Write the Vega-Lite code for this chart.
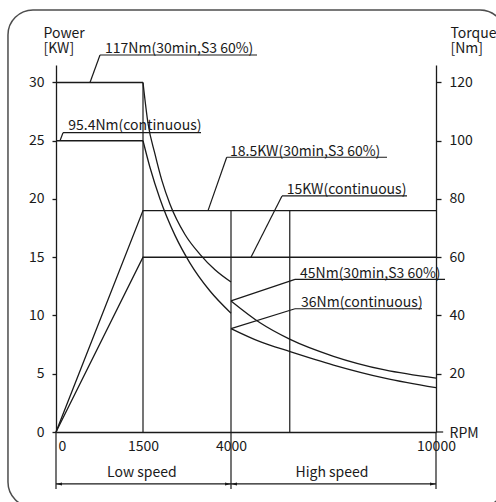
{
  "$schema": "https://vega.github.io/schema/vega-lite/v6.json",
  "width": 380,
  "height": 367,
  "autosize": {"type": "none"},
  "padding": {"left": 56, "top": 65, "right": 60, "bottom": 70},
  "background": "white",
  "config": {
    "view": {"stroke": null},
    "font": "Noto Sans CJK SC",
    "axis": {
      "grid": false,
      "domainColor": "#1a1a1a",
      "domainWidth": 1.3,
      "tickColor": "#1a1a1a",
      "tickWidth": 1.3,
      "labelColor": "#1a1a1a",
      "labelFont": "Noto Sans CJK SC",
      "labelFontSize": 14,
      "titleFont": "Noto Sans CJK SC",
      "titleFontSize": 14,
      "titleFontWeight": "normal",
      "titleColor": "#1a1a1a"
    }
  },
  "datasets": {
    "power": [
      {"series": "30min", "rpm": 0, "kw": 0},
      {"series": "30min", "rpm": 1500, "kw": 19},
      {"series": "30min", "rpm": 10000, "kw": 19},
      {"series": "continuous", "rpm": 0, "kw": 0},
      {"series": "continuous", "rpm": 1500, "kw": 15},
      {"series": "continuous", "rpm": 10000, "kw": 15}
    ],
    "torque": [
      {"series": "117 flat", "rpm": 0, "nm": 120},
      {"series": "117 flat", "rpm": 1500, "nm": 120},
      {"series": "95.4 flat", "rpm": 0, "nm": 100},
      {"series": "95.4 flat", "rpm": 1500, "nm": 100},
      {"series": "117 curve", "rpm": 1500, "nm": 120},
      {"series": "117 curve", "rpm": 1642, "nm": 106},
      {"series": "117 curve", "rpm": 1841, "nm": 95.4},
      {"series": "117 curve", "rpm": 2040, "nm": 86.2},
      {"series": "117 curve", "rpm": 2267, "nm": 78.2},
      {"series": "117 curve", "rpm": 2693, "nm": 67.8},
      {"series": "117 curve", "rpm": 3119, "nm": 61},
      {"series": "117 curve", "rpm": 3545, "nm": 55.7},
      {"series": "117 curve", "rpm": 4000, "nm": 51.5},
      {"series": "95.4 curve", "rpm": 1500, "nm": 100},
      {"series": "95.4 curve", "rpm": 1699, "nm": 90.8},
      {"series": "95.4 curve", "rpm": 1983, "nm": 80},
      {"series": "95.4 curve", "rpm": 2409, "nm": 67.5},
      {"series": "95.4 curve", "rpm": 2835, "nm": 58},
      {"series": "95.4 curve", "rpm": 3403, "nm": 48.4},
      {"series": "95.4 curve", "rpm": 4000, "nm": 40.8},
      {"series": "45 curve", "rpm": 4000, "nm": 45},
      {"series": "45 curve", "rpm": 4850, "nm": 37.5},
      {"series": "45 curve", "rpm": 5730, "nm": 31.8},
      {"series": "45 curve", "rpm": 7000, "nm": 26},
      {"series": "45 curve", "rpm": 8500, "nm": 21.3},
      {"series": "45 curve", "rpm": 10000, "nm": 18.5},
      {"series": "36 curve", "rpm": 4000, "nm": 35.5},
      {"series": "36 curve", "rpm": 4850, "nm": 31},
      {"series": "36 curve", "rpm": 5730, "nm": 27.6},
      {"series": "36 curve", "rpm": 7000, "nm": 23},
      {"series": "36 curve", "rpm": 8500, "nm": 18.5},
      {"series": "36 curve", "rpm": 10000, "nm": 15.2}
    ],
    "segments": [
      {"rpm": 1500, "rpm2": 1500, "kw": 0, "kw2": 30},
      {"rpm": 4000, "rpm2": 4000, "kw": -4.9, "kw2": 19},
      {"rpm": 5720, "rpm2": 5720, "kw": 0, "kw2": 19},
      {"rpm": 0, "rpm2": 0, "kw": -4.9, "kw2": 0},
      {"rpm": 10000, "rpm2": 10000, "kw": -4.9, "kw2": 0},
      {"rpm": 10000, "rpm2": 10210, "kw": 0, "kw2": 0},
      {"rpm": 0, "rpm2": 4000, "kw": -4.46, "kw2": -4.46},
      {"rpm": 4000, "rpm2": 10000, "kw": -4.46, "kw2": -4.46},
      {"rpm": 759, "rpm2": 4761, "kw": 32.36, "kw2": 32.36},
      {"rpm": 586, "rpm2": 759, "kw": 30, "kw2": 32.36},
      {"rpm": 121, "rpm2": 3148, "kw": 25.69, "kw2": 25.69},
      {"rpm": 69, "rpm2": 121, "kw": 25, "kw2": 25.69},
      {"rpm": 3878, "rpm2": 8566, "kw": 23.58, "kw2": 23.58},
      {"rpm": 3347, "rpm2": 3878, "kw": 19, "kw2": 23.58},
      {"rpm": 5493, "rpm2": 9152, "kw": 20.26, "kw2": 20.26},
      {"rpm": 4585, "rpm2": 5493, "kw": 15, "kw2": 20.26},
      {"rpm": 5873, "rpm2": 10264, "kw": 13.1, "kw2": 13.1},
      {"rpm": 4000, "rpm2": 5873, "kw": 11.25, "kw2": 13.1},
      {"rpm": 5873, "rpm2": 9590, "kw": 10.58, "kw2": 10.58},
      {"rpm": 4000, "rpm2": 5873, "kw": 8.875, "kw2": 10.58}
    ],
    "arrows": [
      {"rpm": 0, "kw": -4.46, "dir": "left"},
      {"rpm": 4000, "kw": -4.46, "dir": "right"},
      {"rpm": 4000, "kw": -4.46, "dir": "left"},
      {"rpm": 10000, "kw": -4.46, "dir": "right"}
    ],
    "notes": [
      {"label": "117Nm(30min,S3 60%)", "rpm": 845, "kw": 32.53},
      {"label": "95.4Nm(continuous)", "rpm": 212, "kw": 25.88},
      {"label": "18.5KW(30min,S3 60%)", "rpm": 3972, "kw": 23.73},
      {"label": "15KW(continuous)", "rpm": 5630, "kw": 20.43},
      {"label": "45Nm(30min,S3 60%)", "rpm": 6020, "kw": 13.26},
      {"label": "36Nm(continuous)", "rpm": 6049, "kw": 10.77}
    ],
    "speeds": [
      {"label": "Low speed", "rpm": 1480, "kw": -3.89},
      {"label": "High speed", "rpm": 6956, "kw": -3.89}
    ],
    "frame": [
      {"rpm": -828, "rpm2": 12020, "kw": -6.44, "kw2": 36.22}
    ]
  },
  "layer": [
    {
      "layer": [
        {
          "data": {"name": "power"},
          "mark": {"type": "line", "color": "#1a1a1a", "strokeWidth": 1.3},
          "encoding": {
            "x": {
              "field": "rpm",
              "type": "quantitative",
              "scale": {"domain": [0, 1500, 4000, 10000], "range": [0, 87, 175, 380], "nice": false, "zero": false},
              "axis": {
                "values": [0, 1500, 4000, 10000],
                "format": "d",
                "ticks": false,
                "tickSize": 0,
                "labelPadding": 7,
                "labelAlign": {"condition": {"test": "datum.value === 0", "value": "left"}, "value": "center"},
                "labelOffset": {"condition": {"test": "datum.value === 0", "value": 2}, "value": 0},
                "labelFlush": false,
                "labelOverlap": false,
                "title": "RPM",
                "titleAngle": 0,
                "titleAlign": "left",
                "titleBaseline": "alphabetic",
                "titleX": 393,
                "titleY": 5
              }
            },
            "y": {
              "field": "kw",
              "type": "quantitative",
              "scale": {"domain": [0, 31.5], "nice": false, "zero": false},
              "axis": {
                "values": [0, 5, 10, 15, 20, 25, 30],
                "tickSize": 4,
                "labelPadding": 8,
                "title": ["Power", "[KW]"],
                "titleAngle": 0,
                "titleAlign": "left",
                "titleBaseline": "top",
                "titleLineHeight": 15,
                "titleX": -13,
                "titleY": -39
              }
            },
            "detail": {"field": "series"}
          }
        },
        {
          "data": {"name": "segments"},
          "mark": {"type": "rule", "color": "#1a1a1a", "strokeWidth": 1.2},
          "encoding": {
            "x": {"field": "rpm", "type": "quantitative"},
            "x2": {"field": "rpm2"},
            "y": {"field": "kw", "type": "quantitative"},
            "y2": {"field": "kw2"}
          }
        },
        {
          "data": {"name": "arrows"},
          "transform": [{"filter": "datum.dir === 'right'"}],
          "mark": {"type": "point", "shape": "M0,0L-2,-0.5L-2,0.5Z", "filled": true, "color": "#1a1a1a", "size": 36, "opacity": 1},
          "encoding": {
            "x": {"field": "rpm", "type": "quantitative"},
            "y": {"field": "kw", "type": "quantitative"}
          }
        },
        {
          "data": {"name": "arrows"},
          "transform": [{"filter": "datum.dir === 'left'"}],
          "mark": {"type": "point", "shape": "M0,0L2,-0.5L2,0.5Z", "filled": true, "color": "#1a1a1a", "size": 36, "opacity": 1},
          "encoding": {
            "x": {"field": "rpm", "type": "quantitative"},
            "y": {"field": "kw", "type": "quantitative"}
          }
        },
        {
          "data": {"name": "notes"},
          "mark": {"type": "text", "align": "left", "baseline": "alphabetic", "fontSize": 14, "font": "Noto Sans CJK SC", "color": "#1a1a1a"},
          "encoding": {
            "x": {"field": "rpm", "type": "quantitative"},
            "y": {"field": "kw", "type": "quantitative"},
            "text": {"field": "label"}
          }
        },
        {
          "data": {"name": "speeds"},
          "mark": {"type": "text", "align": "center", "baseline": "alphabetic", "fontSize": 14, "font": "Noto Sans CJK SC", "color": "#1a1a1a"},
          "encoding": {
            "x": {"field": "rpm", "type": "quantitative"},
            "y": {"field": "kw", "type": "quantitative"},
            "text": {"field": "label"}
          }
        },
        {
          "data": {"name": "frame"},
          "mark": {"type": "rect", "fill": null, "fillOpacity": 0, "stroke": "#4d4d4d", "strokeWidth": 1.5, "cornerRadius": 25},
          "encoding": {
            "x": {"field": "rpm", "type": "quantitative"},
            "x2": {"field": "rpm2"},
            "y": {"field": "kw", "type": "quantitative"},
            "y2": {"field": "kw2"}
          }
        }
      ]
    },
    {
      "layer": [
        {
          "data": {"name": "torque"},
          "mark": {"type": "line", "interpolate": "monotone", "color": "#1a1a1a", "strokeWidth": 1.3},
          "encoding": {
            "x": {"field": "rpm", "type": "quantitative"},
            "y": {
              "field": "nm",
              "type": "quantitative",
              "scale": {"domain": [0, 126], "nice": false, "zero": false},
              "axis": {
                "orient": "right",
                "values": [20, 40, 60, 80, 100, 120],
                "tickSize": 5,
                "labelPadding": 8,
                "title": ["Torque", "[Nm]"],
                "titleAngle": 0,
                "titleAlign": "left",
                "titleBaseline": "top",
                "titleLineHeight": 15,
                "titleX": 14,
                "titleY": -39
              }
            },
            "detail": {"field": "series"}
          }
        }
      ]
    }
  ],
  "resolve": {"scale": {"y": "independent"}}
}
